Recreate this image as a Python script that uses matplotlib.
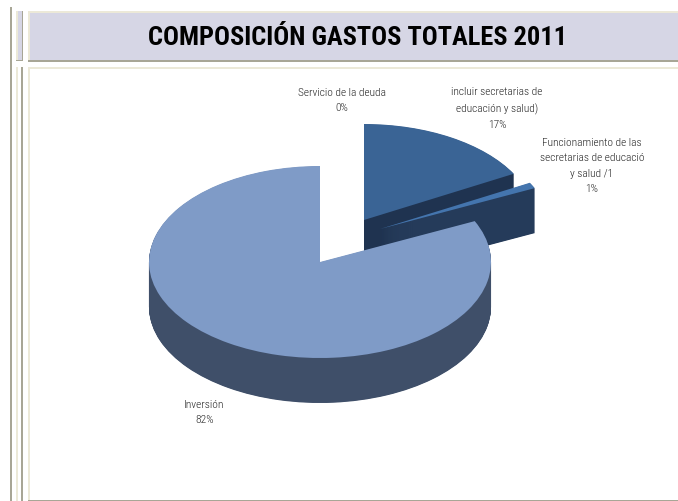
import numpy as np
import matplotlib
matplotlib.use("Agg")
import matplotlib.pyplot as plt
from matplotlib.patches import Wedge, Rectangle
from matplotlib.transforms import Affine2D

plt.rcParams['font.family'] = ['Roboto Condensed', 'Liberation Sans', 'DejaVu Sans']

title = "COMPOSICIÓN GASTOS TOTALES 2011"
labels = ["Servicio de la deuda",
          "incluir secretarias de\neducación y salud)",
          "Funcionamiento de las\nsecretarias de educació\ny salud /1",
          "Inversión"]
values = [0, 17, 1, 82]
top_colors = ["#4f81bd", "#3a6495", "#4475ae", "#7f9bc7"]
wall_colors = ["#2c4770", "#1f3350", "#253b5a", "#3f4f69"]
centers = [(320, 263), (364, 221), (380, 230), (320, 263)]
label_pos = [(342, 100.5), (497, 108.5), (592, 166), (204.5, 412.5)]

RX, RY, DEPTH = 171, 96, 45
GRAY, BEIGE, LAV = "#a8a696", "#ece9d8", "#d6d6e5"

fig = plt.figure(figsize=(6.78, 5.02), dpi=100)
ax = fig.add_axes([0, 0, 1, 1])
ax.set_xlim(0, 678)
ax.set_ylim(502, 0)
ax.axis("off")


def box(x0, y0, x1, y1, color):
    ax.add_patch(Rectangle((x0, y0), x1 - x0, y1 - y0, fc=color, ec="none"))


# Page table rules and header cells
box(10, 8, 12, 502, GRAY)
box(16, 12, 23, 62, LAV)
box(16, 12, 18, 62, BEIGE)
box(22, 12, 23, 62, GRAY)
box(16, 61, 23, 62, GRAY)
box(16, 68, 18, 502, BEIGE)
box(21, 68, 23, 502, GRAY)
box(28, 12, 678, 62, LAV)
box(28, 12, 678, 14, BEIGE)
box(28, 12, 30, 62, BEIGE)
box(28, 60.5, 678, 62.5, GRAY)
box(28, 68, 678, 70, BEIGE)
box(28, 68, 30, 502, BEIGE)
box(28, 500.5, 678, 502, GRAY)

ax.text(357.5, 38, title, ha="center", va="center", fontsize=19,
        fontweight="bold", color="black")

# Pie slices run clockwise from twelve o'clock; each one is extruded downward
fractions = np.array(values) / sum(values)
ends = 90 - 360 * np.cumsum(fractions)
starts = np.r_[90, ends[:-1]]

for i in [1, 2, 3]:
    cx, cy = centers[i]
    for d in np.arange(DEPTH, 0, -0.5):
        tr = Affine2D().scale(RX, -RY).translate(cx, cy + d) + ax.transData
        ax.add_patch(Wedge((0, 0), 1, ends[i], starts[i], fc=wall_colors[i],
                           ec="none", transform=tr, zorder=2 + i))
    tr = Affine2D().scale(RX, -RY).translate(cx, cy) + ax.transData
    ax.add_patch(Wedge((0, 0), 1, ends[i], starts[i], fc=top_colors[i],
                       ec="none", transform=tr, zorder=2 + i))

for name, value, (x, y) in zip(labels, values, label_pos):
    ax.text(x, y, f"{name}\n{value}%", ha="center", va="center", fontsize=8.2,
            fontweight=300, color="#262626", linespacing=1.7, zorder=10)

fig.savefig("out.png", dpi=100)
